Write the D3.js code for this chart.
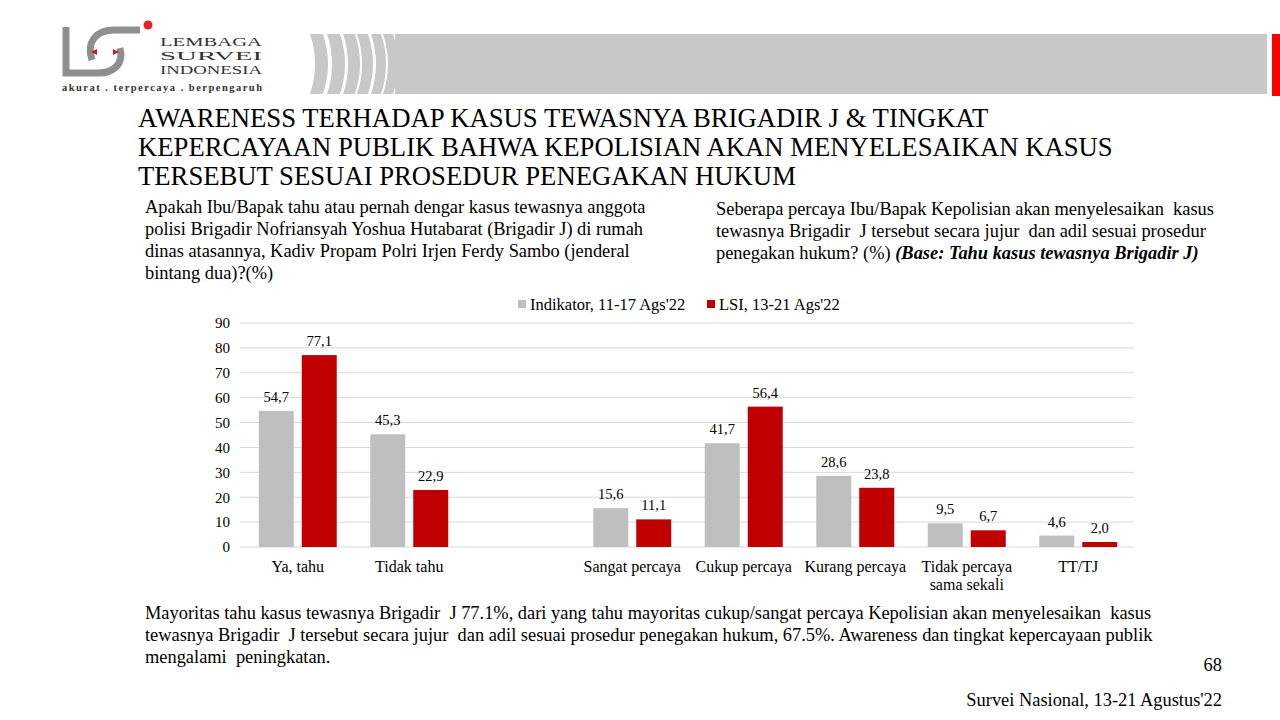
<!DOCTYPE html>
<html><head><meta charset="utf-8">
<script src="https://cdn.jsdelivr.net/npm/d3@7"></script>
<style>
body{margin:0;background:#fff;}
svg{display:block;font-family:"Liberation Serif","Times New Roman",serif;}
</style></head>
<body>
<svg id="c" width="1280" height="720"></svg>
<script>
const categories = ["Ya, tahu","Tidak tahu","","Sangat percaya","Cukup percaya","Kurang percaya","Tidak percaya|sama sekali","TT/TJ"];
const seriesNames = ["Indikator, 11-17 Ags'22","LSI, 13-21 Ags'22"];
const indikator = [54.7,45.3,null,15.6,41.7,28.6,9.5,4.6];
const lsi = [77.1,22.9,null,11.1,56.4,23.8,6.7,2.0];
const yTicks = [0,10,20,30,40,50,60,70,80,90];
const colors = ["#bfbfbf","#c00000"];

const svg = d3.select("#c");

// ---- Header band ----
svg.append("rect").attr("x",395).attr("y",34).attr("width",872).attr("height",60).attr("fill","#c8c8c8");
svg.append("rect").attr("x",1272).attr("y",34).attr("width",8).attr("height",62).attr("fill","#ff0000");
const stripes = [[310,323],[327,340],[343,355],[357,368],[371,381],[383,393]];
stripes.forEach(([a,b])=>{
  const bulge = 5;
  svg.append("path")
    .attr("d",`M${a},34 L${b},34 Q${b+bulge*2},64 ${b},94 L${a},94 Q${a+bulge*2},64 ${a},34 Z`)
    .attr("fill","#c8c8c8");
});

// ---- Logo ----
const lg = svg.append("g").attr("fill","none").attr("stroke","#8f8f8f").attr("stroke-width",7);
lg.append("path").attr("d","M66,27 L66,73 L98,73");
lg.append("path").attr("d","M92,60 C86,42 96,30 114,30 L140,30");
lg.append("path").attr("d","M98,73 C114,73 124,64 120,48");
svg.append("circle").attr("cx",148).attr("cy",25).attr("r",4.5).attr("fill","#e8202a");
svg.append("path").attr("d","M91,52 l6,-3 l0,6 z").attr("fill","#c0202a");
svg.append("path").attr("d","M119,52 l-6,-3 l0,6 z").attr("fill","#c0202a");
const lt = svg.append("g").attr("fill","#333").attr("font-size",12);
[["LEMBAGA",46],["SURVEI",60],["INDONESIA",74]].forEach(([t,yy])=>
  lt.append("text").attr("x",160).attr("y",yy).attr("textLength",102).attr("lengthAdjust","spacingAndGlyphs").text(t));
svg.append("text").attr("x",62).attr("y",91).attr("font-size",10.5).attr("fill","#333").attr("font-weight","bold")
  .attr("textLength",200).text("akurat . terpercaya . berpengaruh");

// ---- Title ----
const titleLines = ["AWARENESS TERHADAP KASUS TEWASNYA BRIGADIR J & TINGKAT","KEPERCAYAAN PUBLIK BAHWA KEPOLISIAN AKAN MENYELESAIKAN KASUS","TERSEBUT SESUAI PROSEDUR PENEGAKAN HUKUM"];
titleLines.forEach((t,i)=>svg.append("text").attr("x",138).attr("y",127+i*29).attr("font-size",26.7).attr("fill","#000").text(t));

// ---- Questions ----
const fs = 18.4;
const q1 = ["Apakah Ibu/Bapak tahu atau pernah dengar kasus tewasnya anggota","polisi Brigadir Nofriansyah Yoshua Hutabarat (Brigadir J) di rumah","dinas atasannya, Kadiv Propam Polri Irjen Ferdy Sambo (jenderal","bintang dua)?(%)"];
q1.forEach((t,i)=>svg.append("text").attr("x",145).attr("y",213+i*22).attr("font-size",fs).text(t));
const q2 = ["Seberapa percaya Ibu/Bapak Kepolisian akan menyelesaikan  kasus","tewasnya Brigadir  J tersebut secara jujur  dan adil sesuai prosedur"];
q2.forEach((t,i)=>svg.append("text").attr("x",716).attr("y",215+i*22).attr("font-size",fs).attr("xml:space","preserve").text(t));
const q3 = svg.append("text").attr("x",716).attr("y",259).attr("font-size",fs);
q3.append("tspan").text("penegakan hukum? (%) ");
q3.append("tspan").attr("font-weight","bold").attr("font-style","italic").text("(Base: Tahu kasus tewasnya Brigadir J)");

// ---- Chart ----
const x0 = 242, x1 = 1134, yBase = 547, yTop = 323;
const x = d3.scaleBand().domain(categories.map((c,i)=>i)).range([x0,x1]).paddingInner(0).paddingOuter(0);
const xi = d3.scaleBand().domain([0,1]).range([0,x.bandwidth()]).paddingInner(0.186).paddingOuter(0.39);
const y = d3.scaleLinear().domain([0,90]).range([yBase,yTop]);

const grid = svg.append("g");
grid.selectAll("line").data(yTicks).join("line")
  .attr("x1",240).attr("x2",x1).attr("y1",d=>y(d)).attr("y2",d=>y(d))
  .attr("stroke","#d9d9d9").attr("stroke-width",1);

const yAxis = svg.append("g").attr("transform",`translate(240,0)`)
  .call(d3.axisLeft(y).tickValues(yTicks).tickSize(0).tickPadding(10));
yAxis.select(".domain").remove();
yAxis.selectAll("text").attr("font-family","Liberation Serif, serif").attr("font-size",15).attr("fill","#000");

const series = [indikator, lsi];
series.forEach((vals,s)=>{
  const g = svg.append("g");
  const data = vals.map((v,i)=>({v,i})).filter(d=>d.v!==null);
  g.selectAll("rect").data(data).join("rect")
    .attr("x",d=>x(d.i)+xi(s)).attr("width",xi.bandwidth())
    .attr("y",d=>y(d.v)).attr("height",d=>yBase-y(d.v))
    .attr("fill",colors[s]);
  g.selectAll("text").data(data).join("text")
    .attr("x",d=>x(d.i)+xi(s)+xi.bandwidth()/2).attr("y",d=>y(d.v)-9)
    .attr("text-anchor","middle").attr("font-size",14.5)
    .text(d=>d3.format(".1f")(d.v).replace(".",","));
});

// category labels
categories.forEach((c,i)=>{
  if(!c) return;
  const parts = c.split("|");
  const cx = x(i)+x.bandwidth()/2;
  const t = svg.append("text").attr("x",cx).attr("y",572).attr("text-anchor","middle").attr("font-size",16);
  parts.forEach((p,j)=>t.append("tspan").attr("x",cx).attr("dy",j?18:0).text(p));
});

// legend
const leg = svg.append("g").attr("font-size",16.5);
const legX = [518, 707];
seriesNames.forEach((n,i)=>{
  leg.append("rect").attr("x",legX[i]).attr("y",300).attr("width",8).attr("height",8).attr("fill",colors[i]);
  leg.append("text").attr("x",legX[i]+12).attr("y",310).text(n);
});

// ---- Footer ----
const foot = ["Mayoritas tahu kasus tewasnya Brigadir  J 77.1%, dari yang tahu mayoritas cukup/sangat percaya Kepolisian akan menyelesaikan  kasus","tewasnya Brigadir  J tersebut secara jujur  dan adil sesuai prosedur penegakan hukum, 67.5%. Awareness dan tingkat kepercayaan publik","mengalami  peningkatan."];
foot.forEach((t,i)=>svg.append("text").attr("x",145).attr("y",619+i*22).attr("font-size",fs).attr("xml:space","preserve").text(t));
svg.append("text").attr("x",1222).attr("y",671).attr("text-anchor","end").attr("font-size",fs).text("68");
svg.append("text").attr("x",1222).attr("y",706).attr("text-anchor","end").attr("font-size",fs).text("Survei Nasional, 13-21 Agustus'22");
</script>
</body></html>
